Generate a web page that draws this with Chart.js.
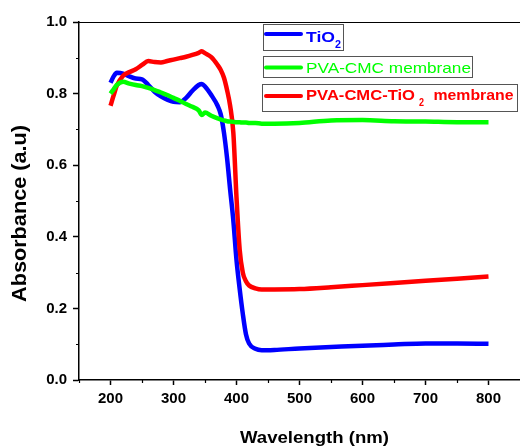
<!DOCTYPE html>
<html>
<head>
<meta charset="utf-8">
<title>Absorbance spectra</title>
<script src="https://cdn.jsdelivr.net/npm/chart.js"></script>
<style>
  html, body { margin: 0; padding: 0; background: #fff; overflow: hidden; }
  #wrap { width: 520px; height: 446px; position: relative; }
</style>
</head>
<body>
<div id="wrap"><canvas id="spectra"></canvas></div>
<script>
// wavelength grid (nm) shared by the three spectra
var wavelength = [200, 205, 210, 220, 230, 240, 250, 260, 270, 280, 290, 300, 310, 320, 330, 340, 345, 350,
  360, 370, 375, 380, 385, 390, 395, 400, 405, 410, 415, 420, 430, 440, 460, 500, 550, 600, 650, 700, 750, 800];

var tio2 = [0.830, 0.848, 0.858, 0.856, 0.848, 0.842, 0.840, 0.824, 0.805, 0.792, 0.783, 0.777, 0.776, 0.788, 0.808,
  0.824, 0.827, 0.820, 0.796, 0.766, 0.742, 0.692, 0.620, 0.530, 0.445, 0.335, 0.255, 0.185, 0.128, 0.102,
  0.087, 0.083, 0.084, 0.088, 0.092, 0.096, 0.099, 0.102, 0.102, 0.101];

var pvaCmc = [0.800, 0.812, 0.824, 0.833, 0.828, 0.824, 0.821, 0.816, 0.810, 0.803, 0.796, 0.788, 0.780, 0.771,
  0.763, 0.753, 0.740, 0.747, 0.738, 0.731, 0.728, 0.725, 0.723, 0.722, 0.721, 0.720, 0.720, 0.719, 0.719,
  0.718, 0.718, 0.716, 0.716, 0.718, 0.725, 0.726, 0.723, 0.722, 0.720, 0.720];

var pvaCmcTio2 = [0.766, 0.795, 0.822, 0.850, 0.860, 0.868, 0.880, 0.891, 0.888, 0.887, 0.891, 0.895, 0.899,
  0.903, 0.908, 0.914, 0.918, 0.913, 0.902, 0.880, 0.866, 0.845, 0.810, 0.765, 0.690, 0.510, 0.365, 0.300,
  0.276, 0.264, 0.256, 0.253, 0.253, 0.254, 0.259, 0.265, 0.271, 0.277, 0.283, 0.289];

var xTicks = [200, 300, 400, 500, 600, 700, 800];
var xMinor = [150, 250, 350, 450, 550, 650, 750];
var yTicks = [0, 0.2, 0.4, 0.6, 0.8, 1.0];
var yMinor = [0.1, 0.3, 0.5, 0.7, 0.9];

var FONT = "Arial, 'Liberation Sans', Helvetica, sans-serif";

function points(ys) {
  return wavelength.map(function (w, i) { return { x: w, y: ys[i] }; });
}

// text squeezed/stretched horizontally to a given width
function fitText(ctx, text, x, y, width) {
  var w = ctx.measureText(text).width;
  ctx.save();
  ctx.translate(x, y);
  ctx.scale(width / w, 1);
  ctx.fillText(text, 0, 0);
  ctx.restore();
}

var frame = {
  id: 'frame',
  afterDraw: function (chart) {
    var ctx = chart.ctx, a = chart.chartArea;
    var sx = chart.scales.x, sy = chart.scales.y;
    ctx.save();
    ctx.strokeStyle = '#000';
    // top border
    ctx.lineWidth = 1;
    ctx.beginPath();
    ctx.moveTo(a.left, a.top + 0.5);
    ctx.lineTo(a.right, a.top + 0.5);
    ctx.stroke();
    // minor ticks
    ctx.lineWidth = 1.2;
    ctx.beginPath();
    xMinor.forEach(function (v) {
      var px = Math.round(sx.getPixelForValue(v)) + 0.5;
      ctx.moveTo(px, a.bottom);
      ctx.lineTo(px, a.bottom + 3);
    });
    yMinor.forEach(function (v) {
      var py = Math.round(sy.getPixelForValue(v)) + 0.5;
      ctx.moveTo(a.left, py);
      ctx.lineTo(a.left - 3, py);
    });
    ctx.stroke();

    // axis titles
    ctx.fillStyle = '#000';
    ctx.textAlign = 'left';
    ctx.textBaseline = 'alphabetic';
    ctx.font = 'bold 16px ' + FONT;
    fitText(ctx, 'Wavelength (nm)', 240, 443, 149);
    ctx.save();
    ctx.translate(26, 302);
    ctx.rotate(-Math.PI / 2);
    ctx.font = 'bold 21px ' + FONT;
    fitText(ctx, 'Absorbance (a.u)', 0, 0, 177);
    ctx.restore();
    ctx.restore();
  }
};

var legendBoxes = {
  id: 'legendBoxes',
  afterDraw: function (chart) {
    var ctx = chart.ctx;
    ctx.save();
    ctx.strokeStyle = '#555';
    ctx.lineWidth = 1;
    ctx.strokeRect(263.5, 24.5, 80, 26);
    ctx.strokeRect(263.5, 56.5, 209, 21);
    ctx.strokeRect(262.5, 84.5, 255, 27);

    ctx.lineWidth = 4;
    ctx.lineCap = 'round';
    [['#0000ff', 34], ['#00ff00', 67.5], ['#ff0000', 96]].forEach(function (l) {
      ctx.strokeStyle = l[0];
      ctx.beginPath();
      ctx.moveTo(266, l[1]);
      ctx.lineTo(301, l[1]);
      ctx.stroke();
    });

    ctx.textAlign = 'left';
    ctx.textBaseline = 'alphabetic';
    ctx.fillStyle = '#0000ff';
    ctx.font = 'bold 15px ' + FONT;
    fitText(ctx, 'TiO', 306, 41.5, 29);
    ctx.font = 'bold 11px ' + FONT;
    fitText(ctx, '2', 335, 48, 6);

    ctx.fillStyle = '#00ff00';
    ctx.font = '15px ' + FONT;
    fitText(ctx, 'PVA-CMC membrane', 306, 72.5, 165);

    ctx.fillStyle = '#ff0000';
    ctx.font = 'bold 15px ' + FONT;
    fitText(ctx, 'PVA-CMC-TiO', 306, 100, 109);
    fitText(ctx, 'membrane', 433.5, 100, 80);
    ctx.font = 'bold 11px ' + FONT;
    fitText(ctx, '2', 419, 106, 5);
    ctx.restore();
  }
};

var tickFont = { family: FONT, size: 15, weight: 'bold' };

new Chart(document.getElementById('spectra'), {
  type: 'line',
  data: {
    datasets: [
      { label: 'TiO2', data: points(tio2), borderColor: '#0000ff', order: 2 },
      { label: 'PVA-CMC membrane', data: points(pvaCmc), borderColor: '#00ff00', order: 0 },
      { label: 'PVA-CMC-TiO2 membrane', data: points(pvaCmcTio2), borderColor: '#ff0000', order: 1 }
    ]
  },
  options: {
    responsive: true,
    maintainAspectRatio: false,
    animation: false,
    layout: { padding: { top: 22, right: 0, left: 0, bottom: 0 } },
    elements: {
      point: { radius: 0 },
      line: { borderWidth: 4.5, cubicInterpolationMode: 'monotone', fill: false }
    },
    plugins: {
      legend: { display: false },
      tooltip: { enabled: false }
    },
    scales: {
      x: {
        type: 'linear',
        min: 150,
        max: 850,
        afterBuildTicks: function (s) { s.ticks = xTicks.map(function (v) { return { value: v }; }); },
        afterFit: function (s) { s.height = 66; },
        grid: { display: true, drawOnChartArea: false, tickLength: 5, tickColor: '#000', tickWidth: 1.5 },
        border: { display: true, color: '#000', width: 1.5 },
        ticks: { color: '#000', font: tickFont, padding: 5, maxRotation: 0, autoSkip: false }
      },
      y: {
        min: 0,
        max: 1,
        afterBuildTicks: function (s) { s.ticks = yTicks.map(function (v) { return { value: v }; }); },
        afterFit: function (s) { s.width = 79; },
        grid: { display: true, drawOnChartArea: false, tickLength: 6, tickColor: '#000', tickWidth: 1.5 },
        border: { display: true, color: '#000', width: 1.5 },
        ticks: {
          color: '#000', font: tickFont, padding: 6, autoSkip: false,
          callback: function (v) { return Number(v).toFixed(1); }
        }
      }
    }
  },
  plugins: [frame, legendBoxes]
});
</script>
</body>
</html>
